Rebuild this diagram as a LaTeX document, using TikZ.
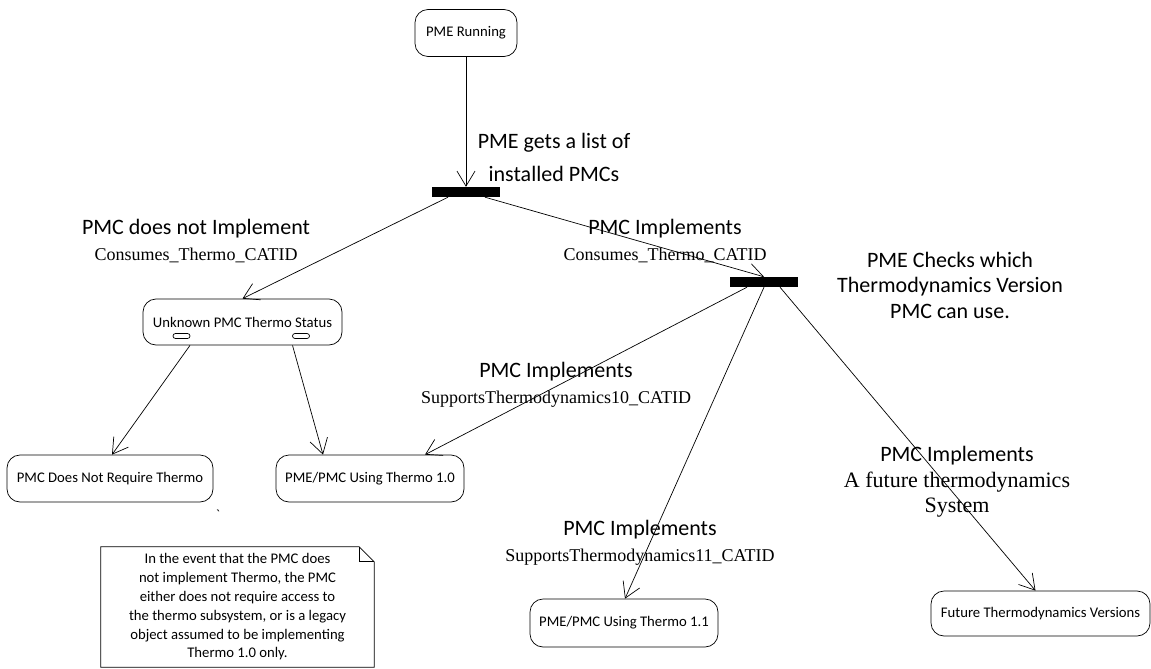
\documentclass[tikz,border=0pt]{standalone}
\usepackage{fontspec}
\setmainfont{Carlito}
\newfontfamily\tm{Liberation Serif}
\usetikzlibrary{arrows.meta}

\begin{document}
\begin{tikzpicture}
        [x=1pt,y=-1pt,
         st/.style={draw,line width=0.7pt,rounded corners=13pt,minimum height=47pt,inner sep=0pt,
                    font=\fontsize{14.7}{17}\selectfont},
         bar/.style={fill=black,minimum width=68pt,minimum height=10pt,inner sep=0pt},
         dot/.style={draw,line width=0.7pt,rounded corners=2.5pt,minimum width=17pt,minimum height=5pt,inner sep=0pt},
         lab/.style={align=center,font=\fontsize{22}{25.5}\selectfont},
         every edge/.style={draw,line width=0.7pt,-{Straight Barb[length=15pt,width=18pt]}}]
        \useasboundingbox (0,0) rectangle (1151,669);
        % states
        \node[st,minimum width=102pt](run) at (466,33){PME Running};
        \node[st,minimum width=199pt,minimum height=46pt](unknown) at (242.5,322){Unknown PMC Thermo Status};
        \node[st,minimum width=206pt](doesnot) at (110,478.5){PMC Does Not Require Thermo};
        \node[st,minimum width=188pt](tten) at (370,478.5){PME/PMC Using Thermo 1.0};
        \node[st,minimum width=188pt,minimum height=48pt](televen) at (624,623){PME/PMC Using Thermo 1.1};
        \node[st,minimum width=219pt,minimum height=45pt](future) at (1040.5,613.5){Future Thermodynamics Versions};
        \node[dot](dota) at (181.5,336){};
        \node[dot](dotb) at (301,336){};
        % forks
        \node[bar](fork) at (466,192){};
        \node[bar](check) at (764,282){};
        % labels
        \node[lab,font=\fontsize{22}{33}\selectfont](lblist) at (554,157){PME gets a list of\\installed PMCs};
        \node[lab](lbnot) at (196,241){PMC does not Implement\\{\tm\fontsize{18}{25.5}\selectfont Consumes\_Thermo\_CATID}};
        \node[lab](lbimp) at (665,241){PMC Implements\\{\tm\fontsize{18}{25.5}\selectfont Consumes\_Thermo\_CATID}};
        \node[lab](lbcheck) at (950,285){PME Checks which\\Thermodynamics Version\\PMC can use.};
        \node[lab](lbten) at (556,385){PMC Implements\\{\tm\fontsize{18}{25.5}\selectfont SupportsThermodynamics10\_CATID}};
        \node[lab](lbeleven) at (640,543){PMC Implements\\{\tm\fontsize{18}{25.5}\selectfont SupportsThermodynamics11\_CATID}};
        \node[lab](lbfut) at (957,482){PMC Implements\\{\tm\fontsize{22}{25.5}\selectfont A future thermodynamics}\\{\tm\fontsize{22}{25.5}\selectfont System}};
        \node[font=\fontsize{14}{14}\selectfont](tick) at (218,515){\textasciigrave};
        % note
        \node[align=center,minimum width=273pt,minimum height=120pt,inner sep=0pt,
              font=\fontsize{14.7}{18.8}\selectfont](note) at (237.5,607){In the event that the PMC does\\not implement Thermo, the PMC\\either does not require access to\\the thermo subsystem, or is a legacy\\object assumed to be implementing\\Thermo 1.0 only.};
        \draw[line width=0.7pt] (note.north west) -- ([xshift=-15pt]note.north east)
              -- ([yshift=-15pt]note.north east) -- (note.south east) -- (note.south west) -- cycle;
        \draw[line width=0.7pt] ([xshift=-15pt]note.north east) -- ([xshift=-15pt,yshift=-15pt]note.north east)
              -- ([yshift=-15pt]note.north east);
        % transitions
        \path (run) edge (fork)
              ([xshift=-18pt]fork.south) edge (unknown.north)
              ([xshift=19pt]fork.south) edge (check.north)
              ([xshift=-17pt]check.south) edge ([xshift=55pt]tten.north)
              (check.south) edge ([xshift=1pt]televen.north)
              ([xshift=16pt]check.south) edge ([xshift=-5pt]future.north)
              ([xshift=-52.5pt]unknown.south) edge ([xshift=2pt]doesnot.north)
              ([xshift=50pt]unknown.south) edge ([xshift=-47pt]tten.north);
\end{tikzpicture}
\end{document}
